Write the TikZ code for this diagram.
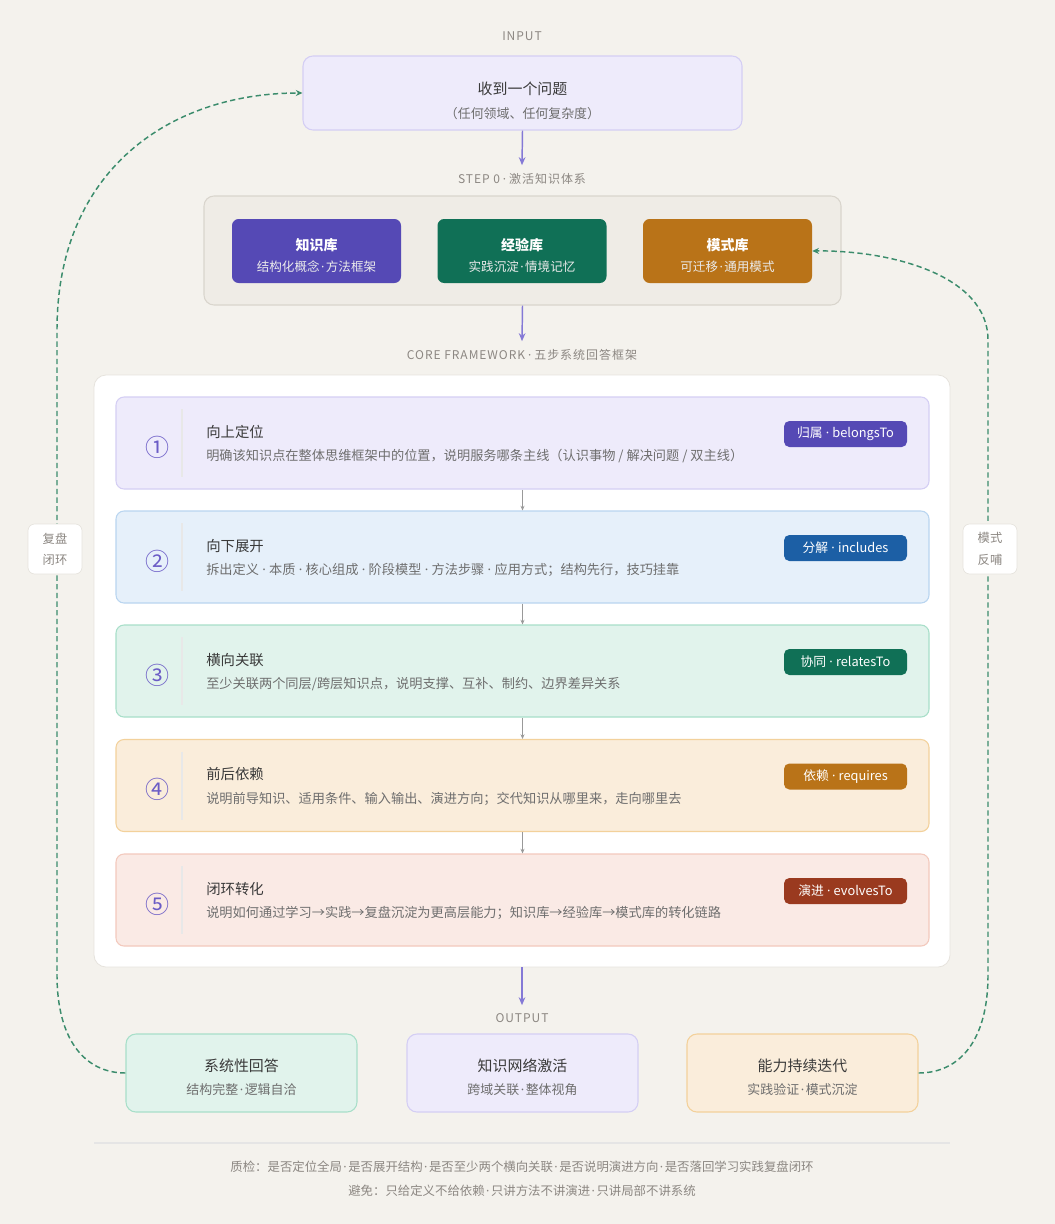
\documentclass[tikz,border=0pt]{standalone}
\usepackage{fontspec}
\setmainfont{Noto Sans CJK SC}
\newfontfamily\spc[LetterSpace=8]{Noto Sans CJK SC}
\newfontfamily\lat{Noto Sans}
\newcommand\md{\hspace{0.25em}{\lat ·}\hspace{0.25em}}
\newcommand\mdn{\hspace{0.12em}{\lat ·}\hspace{0.12em}}
\usetikzlibrary{arrows.meta}
\definecolor{bg}{HTML}{F4F2ED}
\definecolor{lavfill}{HTML}{EEEBFB}
\definecolor{lavline}{HTML}{D4CEF4}
\definecolor{szfill}{HTML}{EFECE6}
\definecolor{szline}{HTML}{D9D5CD}
\definecolor{cpurple}{HTML}{5549B5}
\definecolor{cgreen}{HTML}{107056}
\definecolor{corange}{HTML}{B97318}
\definecolor{cblue}{HTML}{1C5FA5}
\definecolor{cred}{HTML}{9A3A1F}
\definecolor{bluefill}{HTML}{E6F0FA}
\definecolor{blueline}{HTML}{B9D5F0}
\definecolor{grnfill}{HTML}{E1F3EC}
\definecolor{grnline}{HTML}{A8DFC9}
\definecolor{orgfill}{HTML}{FAEDDB}
\definecolor{orgline}{HTML}{F3D19B}
\definecolor{redfill}{HTML}{FAEAE5}
\definecolor{redline}{HTML}{F3C9BD}
\definecolor{arrpurple}{HTML}{8479D6}
\definecolor{loopgreen}{HTML}{3B8C6C}
\definecolor{numcol}{HTML}{6B5CC6}
\definecolor{titlecol}{HTML}{3A3A3A}
\definecolor{subcol}{HTML}{6E6E6E}
\definecolor{lblcol}{HTML}{8C8782}
\definecolor{corebd}{HTML}{E6E3DD}
\tikzset{
  seclabel/.style={font=\spc\fontsize{9}{11}\selectfont, text=lblcol, inner sep=1pt},
  mainarrow/.style={draw=arrpurple, line width=1.1pt, -{Stealth[length=6pt,width=5pt]}},
  smallarrow/.style={draw=black!40, line width=0.6pt, -{Stealth[length=3.5pt,width=3pt]}},
  loopline/.style={draw=loopgreen, line width=1.1pt, dash pattern=on 4pt off 2.5pt, -{Stealth[length=5pt,width=4.5pt]}},
  lbox/.style={rectangle, rounded corners=7.5pt, draw=lavline, fill=lavfill, line width=0.8pt, minimum width=329.25pt, minimum height=55.5pt},
  kbox/.style={rectangle, rounded corners=5pt, draw=none, minimum width=126.75pt, minimum height=48pt},
  ktitle/.style={font=\bfseries\fontsize{10.5}{12}\selectfont, text=white, inner sep=0pt},
  ksub/.style={font=\fontsize{9.4}{11}\selectfont, text=white!92!black, inner sep=0pt},
  stepbox/.style={rectangle, rounded corners=6pt, line width=0.8pt, minimum width=609.75pt, minimum height=69pt},
  badge/.style={rectangle, rounded corners=4pt, minimum width=92.25pt, minimum height=19.5pt, text=white, font=\fontsize{9.6}{11}\selectfont, inner sep=0pt},
  steptitle/.style={anchor=west, font=\fontsize{10.8}{12}\selectfont, text=titlecol, inner sep=0pt},
  stepdesc/.style={anchor=west, font=\fontsize{9.9}{11}\selectfont, text=subcol, inner sep=0pt},
  stepnum/.style={font=\fontsize{18}{19}\selectfont, text=numcol, inner sep=0pt},
  outbox/.style={rectangle, rounded corners=7.5pt, line width=0.8pt, minimum width=173.25pt, minimum height=58.5pt},
  otitle/.style={font=\fontsize{11.2}{13}\selectfont, text=titlecol, inner sep=0pt},
  osub/.style={font=\fontsize{9.7}{11}\selectfont, text=subcol, inner sep=0pt},
  sidebox/.style={rectangle, rounded corners=5pt, fill=white, draw=corebd, line width=0.5pt, minimum width=40.5pt, minimum height=37.5pt, align=center, font=\fontsize{9.2}{16}\selectfont, text=lblcol, inner sep=0pt},
  foot/.style={font=\fontsize{9.3}{11}\selectfont, text=lblcol, inner sep=0pt}
}
\begin{document}
\begin{tikzpicture}[x=0.75pt,y=-0.75pt]
\useasboundingbox (0,0) rectangle (1055,1224);
\fill[bg] (0,0) rectangle (1055,1224);

% INPUT
\node[seclabel] (lblin) at (522,36) {INPUT};
\node[lbox] (in) at (522.5,93) {};
\node[font=\fontsize{11.2}{13}\selectfont, text=titlecol, inner sep=0pt] (intitle) at (522.5,89) {收到一个问题};
\node[font=\fontsize{9.7}{11}\selectfont, text=subcol, inner sep=0pt] (insub) at (522.5,114) {（任何领域、任何复杂度）};

% STEP 0
\node[seclabel] (lbls0) at (522,179) {STEP 0\md 激活知识体系};
\node[rectangle, rounded corners=7.5pt, draw=szline, fill=szfill, line width=0.8pt, minimum width=477.75pt, minimum height=81.75pt] (s0) at (522.5,250.5) {};
\node[kbox, fill=cpurple] (k1) at (316.5,251) {};
\node[kbox, fill=cgreen] (k2) at (522,251) {};
\node[kbox, fill=corange] (k3) at (727.5,251) {};
\node[ktitle] (k1t) at (316.5,245) {知识库};
\node[ksub] (k1s) at (316.5,267) {结构化概念\mdn 方法框架};
\node[ktitle] (k2t) at (522,245) {经验库};
\node[ksub] (k2s) at (522,267) {实践沉淀\mdn 情境记忆};
\node[ktitle] (k3t) at (727.5,245) {模式库};
\node[ksub] (k3s) at (727.5,267) {可迁移\mdn 通用模式};

\draw[mainarrow] (in.south) -- ([yshift=5pt]lbls0.north);

% CORE
\node[seclabel] (lblcore) at (522,355) {CORE FRAMEWORK\md 五步系统回答框架};
\draw[mainarrow] (s0.south) -- ([yshift=5pt]lblcore.north);
\node[rectangle, rounded corners=9pt, fill=white, draw=corebd, line width=0.6pt, minimum width=642pt, minimum height=444pt] (core) at (522,671) {};

% steps
\foreach \i/\cy/\fc/\lc/\bc/\num/\tt/\dd/\bb in {
 1/443/lavfill/lavline/cpurple/①/向上定位/{明确该知识点在整体思维框架中的位置，说明服务哪条主线（认识事物 / 解决问题 / 双主线）}/{归属\md belongsTo},
 2/557/bluefill/blueline/cblue/②/向下展开/{拆出定义\md 本质\md 核心组成\md 阶段模型\md 方法步骤\md 应用方式；结构先行，技巧挂靠}/{分解\md includes},
 3/671/grnfill/grnline/cgreen/③/横向关联/{至少关联两个同层/跨层知识点，说明支撑、互补、制约、边界差异关系}/{协同\md relatesTo},
 4/785.5/orgfill/orgline/corange/④/前后依赖/{说明前导知识、适用条件、输入输出、演进方向；交代知识从哪里来，走向哪里去}/{依赖\md requires},
 5/900/redfill/redline/cred/⑤/闭环转化/{说明如何通过学习→实践→复盘沉淀为更高层能力；知识库→经验库→模式库的转化链路}/{演进\md evolvesTo}} {
  \node[stepbox, fill=\fc, draw=\lc] (st\i) at (522.5,\cy) {};
  \node[stepnum] (num\i) at (157,\cy+4) {\num};
  \draw[draw=black!9, line width=0.8pt] (182,\cy-34) -- (182,\cy+34);
  \node[steptitle] (tt\i) at (206,\cy-11) {\tt};
  \node[stepdesc] (dd\i) at (206,\cy+13) {\dd};
  \node[badge, fill=\bc] (bd\i) at (845.5,\cy-9) {\bb};
}
\foreach \a/\b in {1/2,2/3,3/4,4/5} {
  \draw[smallarrow] (st\a.south) -- (st\b.north);
}

% OUTPUT
\node[seclabel] (lblout) at (522,1018) {OUTPUT};
\draw[mainarrow] (core.south) -- ([yshift=5pt]lblout.north);
\node[outbox, fill=grnfill, draw=grnline] (o1) at (241.5,1073) {};
\node[outbox, fill=lavfill, draw=lavline] (o2) at (522.5,1073) {};
\node[outbox, fill=orgfill, draw=orgline] (o3) at (802.5,1073) {};
\node[otitle] (o1t) at (241.5,1066) {系统性回答};
\node[osub] (o1s) at (241.5,1090) {结构完整\mdn 逻辑自洽};
\node[otitle] (o2t) at (522.5,1066) {知识网络激活};
\node[osub] (o2s) at (522.5,1090) {跨域关联\mdn 整体视角};
\node[otitle] (o3t) at (802.5,1066) {能力持续迭代};
\node[osub] (o3s) at (802.5,1090) {实践验证\mdn 模式沉淀};

% loops
\coordinate (la) at (57,975);
\coordinate (lb) at (57,330);
\coordinate (ra) at (988,975);
\coordinate (rb) at (988,340);
\draw[loopline] (o1.west) .. controls (85,1073) and (57,1040) .. (la) -- (lb) .. controls (57,170) and (170,93) .. (in.west);
\draw[loopline] (o3.east) .. controls (960,1073) and (988,1040) .. (ra) -- (rb) .. controls (988,275) and (890,250) .. (k3.east);
\node[sidebox] (sl) at (55,549) {复盘\\闭环};
\node[sidebox] (sr) at (990,549) {模式\\反哺};

% footer
\draw[draw=black!10, line width=0.8pt] (94,1143) -- (950,1143);
\node[foot] (f1) at (522,1167) {质检：是否定位全局\mdn 是否展开结构\mdn 是否至少两个横向关联\mdn 是否说明演进方向\mdn 是否落回学习实践复盘闭环};
\node[foot] (f2) at (522,1191) {避免：只给定义不给依赖\mdn 只讲方法不讲演进\mdn 只讲局部不讲系统};
\end{tikzpicture}
\end{document}
